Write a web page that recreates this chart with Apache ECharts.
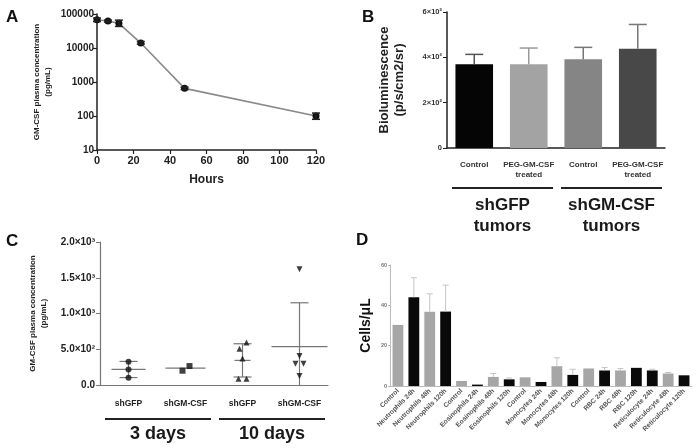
<!DOCTYPE html>
<html><head><meta charset="utf-8">
<script src="https://cdn.jsdelivr.net/npm/echarts@6/dist/echarts.min.js"></script>
<style>html,body{margin:0;padding:0;background:#fff}#c{width:700px;height:448px}</style>
</head><body><div id="c"></div>
<script>
// ---------- Panel A ----------
const aHours = [0, 6, 12, 24, 48, 120];
const aConc = [68000, 62000, 53000, 14000, 650, 100];
const aErrLow = [60000, 58000, 43000, 13000, 600, 80];
const aErrHigh = [76000, 66000, 66000, 15500, 700, 122];
const aYTicks = [10, 100, 1000, 10000, 100000];
// ---------- Panel B ----------
const bCats = ['Control', 'PEG-GM-CSF\ntreated', 'Control', 'PEG-GM-CSF\ntreated'];
const bMean = [370, 370, 392, 438];
const bUpper = [413, 441, 444, 545];
const bGroups = ['shGFP\ntumors', 'shGM-CSF\ntumors'];
const bGroupSpans = [[0, 1], [2, 3]];
// ---------- Panel C ----------
const cCats = ['shGFP', 'shGM-CSF', 'shGFP', 'shGM-CSF'];
const cDay3GFP = [326, 218, 102];
const cDay3GM = [200, 265];
const cDay10GFP = [595, 507, 371, 88, 88];
const cDay10GM = [1620, 405, 297, 297, 126];
const cMean = [218, 237, 344, 536];
const cSdLow = [104, null, 112, 0];
const cSdHigh = [330, null, 577, 1150];
const cGroups = ['3 days', '10 days'];
const cGroupSpans = [[0, 1], [2, 3]];
// ---------- Panel D ----------
const dCats = ['Control', 'Neutrophils 24h', 'Neutrophils 48h', 'Neutrophils 120h',
  'Control', 'Eosinophils 24h', 'Eosinophils 48h', 'Eosinophils 120h',
  'Control', 'Monocytes 24h', 'Monocytes 48h', 'Monocytes 120h',
  'Control', 'RBC 24h', 'RBC 48h', 'RBC 120h',
  'Reticulocyte 24h', 'Reticulocyte 48h', 'Reticulocyte 120h'];
const dMean = [30.3, 44, 36.8, 36.9, 2.5, 0.7, 4.5, 3.3, 4.3, 2, 9.8, 5.5, 8.7, 7.7, 7.7, 9, 7.7, 6.2, 5.3];
const dUpper = [null, 53.7, 45.7, 50, null, null, 6.2, 4, null, null, 14, 8.3, null, 9.2, 8.7, null, 8.3, 6.7, null];

// ---------- styles ----------
const FF = '"Liberation Sans", Arial, sans-serif';
const bColors = ['#050505', '#a3a3a3', '#858585', '#484848'];
const bErrColors = ['#555', '#999', '#777', '#777'];
const dShade = ['g','k','g','k','g','k','g','k','g','k','g','k','g','k','g','k','k','g','k'];
const dColor = {g: '#a6a6a6', k: '#0a0a0a'};
const cMeanHalf = [17, 20, 8, 28];

const chart = echarts.init(document.getElementById('c'), null, {renderer: 'canvas'});

function errRender(color, width, cap, both) {
  return function (params, api) {
    const x = api.value(0), lo = api.value(1), hi = api.value(2);
    const p1 = api.coord([x, lo]), p2 = api.coord([x, hi]);
    const st = {stroke: color, lineWidth: width};
    const ch = [
      {type: 'line', shape: {x1: p1[0], y1: p1[1], x2: p2[0], y2: p2[1]}, style: st},
      {type: 'line', shape: {x1: p2[0] - cap, y1: p2[1], x2: p2[0] + cap, y2: p2[1]}, style: st}
    ];
    if (both) ch.push({type: 'line', shape: {x1: p1[0] - cap, y1: p1[1], x2: p1[0] + cap, y2: p1[1]}, style: st});
    return {type: 'group', children: ch};
  };
}
function groupRender(names, offLine, offText, fontSize, lh) {
  return function (params, api) {
    const s = api.value(0), e = api.value(2);
    const p1 = api.coord([s, 0]), p2 = api.coord([e, 0]);
    const bw = api.size([1, 0])[0];
    const x1 = p1[0] - bw / 2 + 5, x2 = p2[0] + bw / 2 - 3;
    const y = p1[1] + offLine;
    return {type: 'group', children: [
      {type: 'line', shape: {x1: x1, y1: y, x2: x2, y2: y}, style: {stroke: '#222', lineWidth: 2}},
      {type: 'text', x: (x1 + x2) / 2, y: y + offText, style: {text: names[params.dataIndex], fill: '#1a1a1a',
        fontSize: fontSize, fontWeight: 'bold', fontFamily: FF, align: 'center', verticalAlign: 'top', lineHeight: lh}}
    ]};
  };
}
function cStatRender(params, api) {
  const i = params.dataIndex, x = api.value(0);
  const m = api.coord([x, cMean[i]]);
  const st = {stroke: '#777', lineWidth: 1.2};
  const ch = [{type: 'line', shape: {x1: m[0] - cMeanHalf[i], y1: m[1], x2: m[0] + cMeanHalf[i], y2: m[1]}, style: st}];
  if (cSdHigh[i] != null) {
    const lo = api.coord([x, cSdLow[i]]), hi = api.coord([x, cSdHigh[i]]);
    ch.push({type: 'line', shape: {x1: lo[0], y1: lo[1], x2: hi[0], y2: hi[1]}, style: st});
    ch.push({type: 'line', shape: {x1: hi[0] - 9, y1: hi[1], x2: hi[0] + 9, y2: hi[1]}, style: st});
    if (cSdLow[i] > 0) ch.push({type: 'line', shape: {x1: lo[0] - 9, y1: lo[1], x2: lo[0] + 9, y2: lo[1]}, style: st});
  }
  return {type: 'group', children: ch};
}
function sci(v) {
  if (v === 0) return '0';
  const e = Math.floor(Math.log10(v) + 1e-9);
  const m = v / Math.pow(10, e);
  return m + '×10' + ({2: '²', 3: '³'})[e];
}
function sci1(v) {
  if (v === 0) return '0.0';
  const e = Math.floor(Math.log10(v) + 1e-9);
  const m = v / Math.pow(10, e);
  return m.toFixed(1) + '×10' + ({2: '²', 3: '³'})[e];
}
const letter = (t, l, tp) => ({text: t, left: l, top: tp, padding: 0,
  textStyle: {fontSize: 17, fontWeight: 'bold', color: '#111', fontFamily: FF}});

const darkAxis = {lineStyle: {color: '#222', width: 1.5}};
const option = {
  animation: false,
  textStyle: {fontFamily: FF},
  title: [letter('A', 6, 9), letter('B', 362, 9), letter('C', 6, 233), letter('D', 356, 232)],
  grid: [
    {left: 97, top: 14, width: 219, height: 136},
    {left: 447, top: 12, width: 218, height: 136},
    {left: 100, top: 242, width: 228, height: 143},
    {left: 390, top: 265, width: 302, height: 121}
  ],
  xAxis: [
    {gridIndex: 0, type: 'value', min: 0, max: 120, interval: 20, name: 'Hours', nameLocation: 'middle', nameGap: 24,
      nameTextStyle: {fontSize: 12, fontWeight: 'bold', color: '#222'},
      axisLine: darkAxis, axisTick: {length: 4, lineStyle: {color: '#222', width: 1.2}},
      axisLabel: {fontSize: 11, fontWeight: 'bold', color: '#222', margin: 5}, splitLine: {show: false}},
    {gridIndex: 1, type: 'category', data: bCats,
      axisLine: darkAxis, axisTick: {alignWithLabel: true, length: 3, lineStyle: {color: '#222'}},
      axisLabel: {fontSize: 8, fontWeight: 'bold', color: '#333', margin: 12, lineHeight: 10, interval: 0}},
    {gridIndex: 2, type: 'category', data: cCats,
      axisLine: {lineStyle: {color: '#777', width: 1.2}}, axisTick: {alignWithLabel: true, length: 3, lineStyle: {color: '#777'}},
      axisLabel: {fontSize: 8.5, fontWeight: 'bold', color: '#222', margin: 14, interval: 0}},
    {gridIndex: 3, type: 'category', data: dCats,
      axisLine: {lineStyle: {color: '#bbb', width: 1}}, axisTick: {show: false},
      axisLabel: {fontSize: 6.7, fontWeight: 'bold', color: '#555', rotate: 45, interval: 0, margin: 4}}
  ],
  yAxis: [
    {gridIndex: 0, type: 'log', logBase: 10, min: 10, max: 100000,
      name: 'GM-CSF plasma concentration\n(pg/mL)', nameLocation: 'middle', nameGap: 44, nameRotate: 90,
      nameTextStyle: {fontSize: 8, fontWeight: 'bold', color: '#222', lineHeight: 11},
      axisLine: {show: true, lineStyle: {color: '#222', width: 1.5}}, axisTick: {show: true, length: 4, lineStyle: {color: '#222', width: 1.2}},
      axisLabel: {fontSize: 10, fontWeight: 'bold', color: '#222', margin: 3, formatter: v => String(Math.round(v))},
      splitLine: {show: false}},
    {gridIndex: 1, type: 'value', min: 0, max: 600, interval: 200,
      name: 'Bioluminescence\n(p/s/cm2/sr)', nameLocation: 'middle', nameGap: 40, nameRotate: 90,
      nameTextStyle: {fontSize: 13, fontWeight: 'bold', color: '#222', lineHeight: 15},
      axisLine: {show: true, lineStyle: {color: '#222', width: 1.5}}, axisTick: {show: true, length: 4, lineStyle: {color: '#222'}},
      axisLabel: {fontSize: 7.5, fontWeight: 'bold', color: '#333', margin: 5, formatter: sci}, splitLine: {show: false}},
    {gridIndex: 2, type: 'value', min: 0, max: 2000, interval: 500,
      name: 'GM-CSF plasma concentration\n(pg/mL)', nameLocation: 'middle', nameGap: 51, nameRotate: 90,
      nameTextStyle: {fontSize: 8, fontWeight: 'bold', color: '#222', lineHeight: 11},
      axisLine: {show: true, lineStyle: {color: '#777', width: 1.2}}, axisTick: {show: true, length: 4, lineStyle: {color: '#777'}},
      axisLabel: {fontSize: 10, fontWeight: 'bold', color: '#222', margin: 5, formatter: sci1}, splitLine: {show: false}},
    {gridIndex: 3, type: 'value', min: 0, max: 60, interval: 20,
      name: 'Cells/μL', nameLocation: 'middle', nameGap: 17, nameRotate: 90,
      nameTextStyle: {fontSize: 14, fontWeight: 'bold', color: '#111'},
      axisLine: {show: true, lineStyle: {color: '#bbb', width: 1}}, axisTick: {show: true, length: 2, lineStyle: {color: '#bbb'}},
      axisLabel: {fontSize: 5.5, fontWeight: 'bold', color: '#777', margin: 3}, splitLine: {show: false}}
  ],
  series: [
    // A
    {type: 'line', xAxisIndex: 0, yAxisIndex: 0, data: aHours.map((h, i) => [h, aConc[i]]),
      lineStyle: {color: '#8a8a8a', width: 1.6}, symbol: 'circle', symbolSize: 7,
      itemStyle: {color: '#111', borderWidth: 0}, z: 3},
    {type: 'custom', xAxisIndex: 0, yAxisIndex: 0, renderItem: errRender('#222', 1.5, 4, true),
      data: aHours.map((h, i) => [h, aErrLow[i], aErrHigh[i]]), encode: {x: 0, y: [1, 2]}, z: 4},
    // B
    {type: 'bar', xAxisIndex: 1, yAxisIndex: 1, barCategoryGap: '31%',
      data: bMean.map((v, i) => ({value: v, itemStyle: {color: bColors[i]}}))},
    {type: 'custom', xAxisIndex: 1, yAxisIndex: 1, z: 3,
      renderItem: function (params, api) { return errRender(bErrColors[params.dataIndex], 1.5, 9, false)(params, api); },
      data: bMean.map((v, i) => [i, v, bUpper[i]]), encode: {x: 0, y: [1, 2]}},
    {type: 'custom', xAxisIndex: 1, yAxisIndex: 1, clip: false, silent: true,
      renderItem: groupRender(bGroups, 40, 7, 17, 21),
      data: bGroupSpans.map(s => [s[0], 0, s[1]]), encode: {x: 0, y: 1}},
    // C
    {type: 'custom', xAxisIndex: 2, yAxisIndex: 2, renderItem: cStatRender,
      data: cMean.map((v, i) => [i, v]), encode: {x: 0, y: 1}, z: 2},
    {type: 'scatter', xAxisIndex: 2, yAxisIndex: 2, symbol: 'circle', symbolSize: 6, itemStyle: {color: '#111'}, z: 3,
      data: cDay3GFP.map(v => [0, v])},
    {type: 'scatter', xAxisIndex: 2, yAxisIndex: 2, symbol: 'rect', symbolSize: 6, itemStyle: {color: '#111'}, z: 3,
      data: cDay3GM.map((v, j) => ({value: [1, v], symbolOffset: [j === 0 ? -3 : 4, 0]}))},
    {type: 'scatter', xAxisIndex: 2, yAxisIndex: 2, symbol: 'triangle', symbolSize: 6, itemStyle: {color: '#111'}, z: 3,
      data: cDay10GFP.map((v, j) => ({value: [2, v], symbolOffset: [[4, -3, 0, -4, 4][j], 0]}))},
    {type: 'scatter', xAxisIndex: 2, yAxisIndex: 2, symbol: 'triangle', symbolRotate: 180, symbolSize: 6, itemStyle: {color: '#111'}, z: 3,
      data: cDay10GM.map((v, j) => ({value: [3, v], symbolOffset: [[0, 0, -4, 4, 0][j], 0]}))},
    {type: 'custom', xAxisIndex: 2, yAxisIndex: 2, clip: false, silent: true,
      renderItem: groupRender(cGroups, 34, 5, 18, 20),
      data: cGroupSpans.map(s => [s[0], 0, s[1]]), encode: {x: 0, y: 1}},
    // D
    {type: 'bar', xAxisIndex: 3, yAxisIndex: 3, barCategoryGap: '32%',
      data: dMean.map((v, i) => ({value: v, itemStyle: {color: dColor[dShade[i]]}}))},
    {type: 'custom', xAxisIndex: 3, yAxisIndex: 3, z: 3, renderItem: errRender('#c4c4c4', 1, 3, false),
      data: dMean.map((v, i) => dUpper[i] == null ? [i, v, v] : [i, v, dUpper[i]]).filter((d, i) => dUpper[i] != null),
      encode: {x: 0, y: [1, 2]}}
  ]
};
chart.setOption(option);
</script></body></html>
